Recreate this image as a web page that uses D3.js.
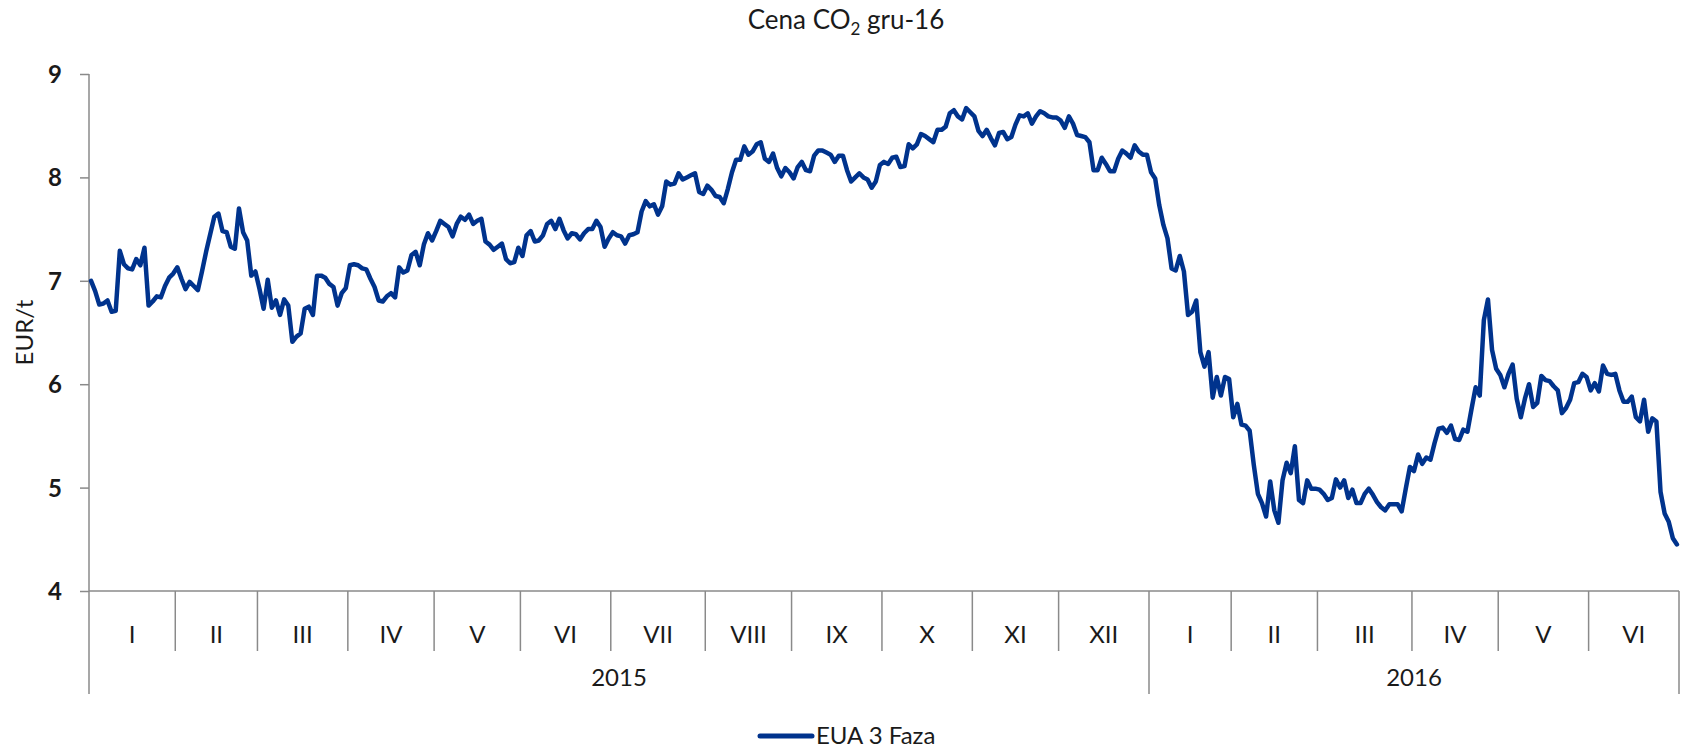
<!DOCTYPE html>
<html>
<head>
<meta charset="utf-8">
<script src="https://cdn.jsdelivr.net/npm/d3@7"></script>
<style>
  body { margin: 0; background: #fff; }
  svg text { font-family: Lato, "Open Sans", sans-serif; fill: #1a1a1a; }
</style>
</head>
<body>
<svg width="1683" height="751"></svg>
<script>
// Category labels (two-level axis: month / year)
const monthLabels = ['I', 'II', 'III', 'IV', 'V', 'VI', 'VII', 'VIII', 'IX', 'X', 'XI', 'XII',
  'I', 'II', 'III', 'IV', 'V', 'VI'];
const monthYear = [0, 0, 0, 0, 0, 0, 0, 0, 0, 0, 0, 0, 1, 1, 1, 1, 1, 1];
const yearLabels = ['2015', '2016'];
const yTicks = [4, 5, 6, 7, 8, 9];
const seriesName = 'EUA 3 Faza';

// Daily EUA price (EUR/t), one array per month
const jan15 = [7.00, 6.90, 6.77, 6.78, 6.81, 6.70, 6.71, 7.29, 7.16, 7.12, 7.11, 7.21, 7.15, 7.32, 6.76, 6.80, 6.85, 6.84, 6.95, 7.03, 7.07];
const feb15 = [7.13, 7.02, 6.92, 6.99, 6.95, 6.91, 7.09, 7.28, 7.45, 7.62, 7.65, 7.48, 7.47, 7.33, 7.31, 7.70, 7.47, 7.39, 7.05, 7.09];
const mar15 = [6.92, 6.73, 7.01, 6.74, 6.81, 6.67, 6.82, 6.76, 6.41, 6.46, 6.49, 6.73, 6.75, 6.67, 7.05, 7.05, 7.03, 6.97, 6.94, 6.76, 6.88, 6.93];
const apr15 = [7.15, 7.16, 7.15, 7.12, 7.11, 7.02, 6.94, 6.81, 6.80, 6.85, 6.88, 6.84, 7.13, 7.08, 7.10, 7.25, 7.28, 7.15, 7.35, 7.46, 7.39];
const may15 = [7.48, 7.58, 7.55, 7.52, 7.43, 7.55, 7.62, 7.59, 7.64, 7.55, 7.58, 7.60, 7.38, 7.35, 7.30, 7.33, 7.36, 7.21, 7.17, 7.18, 7.32];
const jun15 = [7.24, 7.44, 7.48, 7.38, 7.39, 7.44, 7.55, 7.58, 7.50, 7.60, 7.49, 7.41, 7.46, 7.45, 7.40, 7.46, 7.50, 7.50, 7.58, 7.52, 7.33, 7.41];
const jul15 = [7.47, 7.44, 7.43, 7.36, 7.44, 7.45, 7.47, 7.67, 7.77, 7.72, 7.74, 7.64, 7.72, 7.96, 7.93, 7.94, 8.04, 7.98, 8.00, 8.02, 8.04, 7.86, 7.84];
const aug15 = [7.92, 7.88, 7.82, 7.81, 7.75, 7.89, 8.05, 8.17, 8.17, 8.30, 8.22, 8.25, 8.32, 8.34, 8.18, 8.15, 8.23, 8.09, 8.01, 8.09, 8.05];
const sep15 = [7.99, 8.10, 8.15, 8.07, 8.06, 8.21, 8.26, 8.26, 8.24, 8.22, 8.15, 8.21, 8.21, 8.07, 7.96, 8.00, 8.04, 8.00, 7.98, 7.90, 7.96, 8.12];
const oct15 = [8.15, 8.13, 8.19, 8.20, 8.10, 8.11, 8.32, 8.28, 8.32, 8.42, 8.40, 8.37, 8.34, 8.46, 8.46, 8.49, 8.62, 8.65, 8.59, 8.56, 8.67, 8.63];
const nov15 = [8.59, 8.45, 8.40, 8.46, 8.38, 8.31, 8.43, 8.44, 8.37, 8.39, 8.51, 8.60, 8.59, 8.62, 8.52, 8.59, 8.64, 8.62, 8.59, 8.58, 8.58];
const dec15 = [8.55, 8.48, 8.59, 8.52, 8.41, 8.40, 8.39, 8.34, 8.07, 8.07, 8.19, 8.13, 8.06, 8.06, 8.18, 8.26, 8.23, 8.19, 8.31, 8.25, 8.22, 8.22];
const jan16 = [8.05, 7.99, 7.73, 7.54, 7.41, 7.12, 7.10, 7.24, 7.09, 6.67, 6.70, 6.81, 6.31, 6.17, 6.31, 5.87, 6.07, 5.89, 6.07, 6.05];
const feb16 = [5.68, 5.81, 5.61, 5.60, 5.55, 5.22, 4.94, 4.85, 4.72, 5.06, 4.78, 4.66, 5.07, 5.24, 5.14, 5.40, 4.88, 4.85, 5.07, 4.99, 4.99];
const mar16 = [4.98, 4.94, 4.88, 4.90, 5.08, 5.00, 5.07, 4.90, 4.98, 4.85, 4.85, 4.94, 4.99, 4.93, 4.86, 4.81, 4.78, 4.84, 4.84, 4.84, 4.77, 4.99, 5.20];
const apr16 = [5.16, 5.32, 5.23, 5.29, 5.27, 5.43, 5.57, 5.58, 5.53, 5.60, 5.47, 5.46, 5.56, 5.54, 5.76, 5.97, 5.89, 6.62, 6.82, 6.33, 6.15];
const may16 = [6.09, 5.97, 6.10, 6.19, 5.86, 5.68, 5.86, 6.00, 5.78, 5.82, 6.08, 6.04, 6.03, 5.98, 5.94, 5.72, 5.77, 5.85, 6.01, 6.02, 6.10, 6.07];
const jun16 = [5.94, 6.01, 5.93, 6.18, 6.10, 6.09, 6.10, 5.94, 5.83, 5.83, 5.88, 5.68, 5.64, 5.85, 5.54, 5.67, 5.64, 4.96, 4.75, 4.67, 4.51, 4.45];

const monthValues = [jan15, feb15, mar15, apr15, may15, jun15, jul15, aug15, sep15, oct15, nov15, dec15,
  jan16, feb16, mar16, apr16, may16, jun16];

const points = monthValues.flatMap(vals => vals);
const monthStart = [];
let acc = 0;
monthValues.forEach(vals => { monthStart.push(acc); acc += vals.length; });
const n = points.length;

const svg = d3.select('svg');
const axisColor = '#8a8a8a';
const lineColor = '#00338d';
const plot = {left: 89, right: 1679, top: 74, bottom: 591};

const x = d3.scaleBand()
  .domain(d3.range(n))
  .range([plot.left, plot.right])
  .paddingInner(0)
  .paddingOuter(0);

const y = d3.scaleLinear()
  .domain([4, 9])
  .range([plot.bottom, plot.top]);

// title
const title = svg.append('text')
  .attr('x', 846)
  .attr('y', 29)
  .attr('text-anchor', 'middle')
  .style('font-size', '26px');
title.append('tspan').text('Cena CO');
title.append('tspan').attr('dy', 6).style('font-size', '17px').text('2');
title.append('tspan').attr('dy', -6).text(' gru-16');

// y axis
const yAxis = svg.append('g')
  .attr('transform', `translate(${plot.left},0)`)
  .call(d3.axisLeft(y).tickValues(yTicks).tickFormat(d3.format('d')).tickSize(9).tickSizeOuter(0).tickPadding(18));
yAxis.select('.domain').remove();
yAxis.selectAll('line').attr('stroke', axisColor).attr('stroke-width', 1.5);
yAxis.selectAll('text')
  .style('font-size', '24px')
  .style('font-weight', 'bold')
  .attr('dy', '0.35em');

svg.append('text')
  .attr('transform', `translate(25,${(plot.top + plot.bottom) / 2}) rotate(-90)`)
  .attr('text-anchor', 'middle')
  .attr('dy', '0.35em')
  .style('font-size', '24px')
  .text('EUR/t');

// left axis line, runs down through the category area
svg.append('line')
  .attr('x1', plot.left).attr('x2', plot.left)
  .attr('y1', y(9)).attr('y2', 694)
  .attr('stroke', axisColor).attr('stroke-width', 1.5);

// category axis
svg.append('line')
  .attr('x1', plot.left).attr('x2', plot.right)
  .attr('y1', y(4)).attr('y2', y(4))
  .attr('stroke', axisColor).attr('stroke-width', 1.5);

const bounds = monthStart.map(s => x(s)).concat([plot.right]);
bounds.forEach((bx, i) => {
  if (i === 0) return;
  const yearEdge = i === bounds.length - 1 || monthYear[i] !== monthYear[i - 1];
  svg.append('line')
    .attr('x1', bx).attr('x2', bx)
    .attr('y1', y(4)).attr('y2', yearEdge ? 694 : 651)
    .attr('stroke', axisColor).attr('stroke-width', 1.5);
});

svg.append('g').selectAll('text')
  .data(monthLabels)
  .enter().append('text')
    .attr('x', (d, i) => (bounds[i] + bounds[i + 1]) / 2)
    .attr('y', 643)
    .attr('text-anchor', 'middle')
    .style('font-size', '24px')
    .text(d => d);

svg.append('g').selectAll('text')
  .data(yearLabels)
  .enter().append('text')
    .attr('x', (d, yi) => {
      const ms = d3.range(monthLabels.length).filter(i => monthYear[i] === yi);
      return (bounds[ms[0]] + bounds[ms[ms.length - 1] + 1]) / 2;
    })
    .attr('y', 686)
    .attr('text-anchor', 'middle')
    .style('font-size', '24px')
    .text(d => d);

// series line
const line = d3.line()
  .x((d, i) => x(i) + x.bandwidth() / 2)
  .y(d => y(d));

svg.append('path')
  .datum(points)
  .attr('fill', 'none')
  .attr('stroke', lineColor)
  .attr('stroke-width', 4.5)
  .attr('stroke-linejoin', 'round')
  .attr('stroke-linecap', 'round')
  .attr('d', line);

// legend
const legend = svg.append('g').attr('transform', 'translate(760,736)');
legend.append('line')
  .attr('x1', 0).attr('x2', 52)
  .attr('stroke', lineColor).attr('stroke-width', 5).attr('stroke-linecap', 'round');
legend.append('text')
  .attr('x', 56)
  .attr('dy', '0.35em')
  .style('font-size', '24px')
  .text(seriesName);
</script>
</body>
</html>
